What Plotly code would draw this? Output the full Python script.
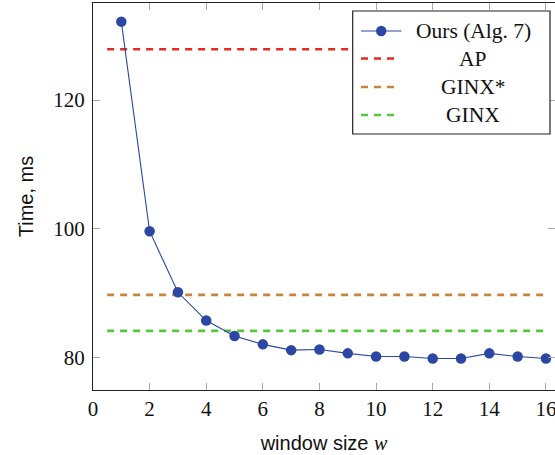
import plotly.graph_objects as go

# ---- data ----
window_sizes = list(range(1, 17))
ours_times = [132.2, 99.6, 90.1, 85.7, 83.3, 82.0, 81.1, 81.2, 80.6,
              80.1, 80.1, 79.8, 79.8, 80.6, 80.1, 79.8]
baseline_names = ["AP", "GINX*", "GINX"]
baseline_times = [127.9, 89.7, 84.1]
baseline_x = [0.5, 16]
x_ticks = [0, 2, 4, 6, 8, 10, 12, 14, 16]
y_ticks = [80, 100, 120]

BLUE = "#2c46a4"
baseline_colors = ["#e8291f", "#c8843e", "#52c83a"]

SERIF = "Liberation Serif"
SANS = "Liberation Sans"

W, H = 555, 455
ML, MR, MT, MB = 93, 0, 3, 65
PW = W - ML - MR
PH = H - MT - MB

fig = go.Figure()

for name, val, col in zip(baseline_names, baseline_times, baseline_colors):
    fig.add_trace(go.Scatter(
        x=baseline_x, y=[val, val], mode="lines", name=name,
        line=dict(color=col, width=2.6, dash="7px,6px"),
        showlegend=False, hoverinfo="skip"))

fig.add_trace(go.Scatter(
    x=window_sizes, y=ours_times, mode="lines+markers", name="Ours (Alg. 7)",
    line=dict(color=BLUE, width=1.1),
    marker=dict(color=BLUE, size=10.5),
    showlegend=False))

# invisible helper trace so the right-hand tick axis is drawn
fig.add_trace(go.Scatter(x=[], y=[], yaxis="y2", showlegend=False,
                         hoverinfo="skip"))

# ---- custom legend (pixel -> paper helpers) ----
def px(xp):
    return (xp - ML) / PW

def py(yp):
    return (H - MB - yp) / PH

shapes = []
annotations = []
shapes.append(dict(type="rect", xref="paper", yref="paper",
                   x0=px(352.7), x1=px(550), y0=py(134), y1=py(11),
                   line=dict(color="#222222", width=1.2),
                   fillcolor="white", layer="above"))
legend_names = ["Ours (Alg. 7)"] + baseline_names
legend_rows = [31, 58.5, 87, 115]
shapes.append(dict(type="line", xref="paper", yref="paper",
                   x0=px(361), x1=px(401.5), y0=py(31), y1=py(31),
                   line=dict(color=BLUE, width=1.1), layer="above"))
r = 5.2
shapes.append(dict(type="circle", xref="paper", yref="paper",
                   x0=px(381.2 - r), x1=px(381.2 + r),
                   y0=py(31 + r), y1=py(31 - r),
                   fillcolor=BLUE, line=dict(color=BLUE, width=0),
                   layer="above"))
for col, yr in zip(baseline_colors, legend_rows[1:]):
    shapes.append(dict(type="line", xref="paper", yref="paper",
                       x0=px(361), x1=px(398), y0=py(yr), y1=py(yr),
                       line=dict(color=col, width=2.6, dash="7px,6px"),
                       layer="above"))
for nm, yr in zip(legend_names, legend_rows):
    annotations.append(dict(text=nm, xref="paper", yref="paper",
                            x=px(473), y=py(yr), xanchor="center",
                            yanchor="middle", showarrow=False,
                            font=dict(family=SERIF, size=21.5, color="#111111")))

tick_common = dict(ticks="inside", ticklen=7, tickwidth=1.1,
                   tickcolor="#aaaaaa", showgrid=False, zeroline=False)

fig.update_layout(
    width=W, height=H, autosize=False,
    margin=dict(l=ML, r=MR, t=MT, b=MB, pad=0),
    paper_bgcolor="white", plot_bgcolor="white",
    showlegend=False,
    shapes=shapes, annotations=annotations,
    xaxis=dict(
        range=[0, 16.32], tickvals=x_ticks,
        ticktext=[str(v) for v in x_ticks],
        showline=True, linecolor="#222222", linewidth=1.3, mirror="ticks",
        tickfont=dict(family=SERIF, size=21, color="#111111"),
        ticklabelstandoff=0, ticklabeloverflow="allow",
        title=dict(text="window size <span style='font-family:Liberation Serif;font-style:italic'>w</span>",
                   font=dict(family=SANS, size=20, color="#111111"),
                   standoff=15),
        **tick_common,
    ),
    yaxis=dict(
        range=[74.9, 135.1], tickvals=y_ticks,
        ticktext=[str(v) for v in y_ticks],
        showline=True, linecolor="#222222", linewidth=1.3, mirror=False,
        tickfont=dict(family=SERIF, size=21, color="#111111"),
        ticklabelstandoff=3,
        title=dict(text="Time, ms",
                   font=dict(family=SANS, size=20, color="#111111"),
                   standoff=14),
        **tick_common,
    ),
    yaxis2=dict(
        overlaying="y", side="right", matches="y",
        range=[74.9, 135.1], tickvals=y_ticks,
        showticklabels=False, showline=False,
        **tick_common,
    ),
)

fig.write_html("out.html", config={"responsive": False, "displayModeBar": False},
               post_script="document.body.style.margin='0';")
